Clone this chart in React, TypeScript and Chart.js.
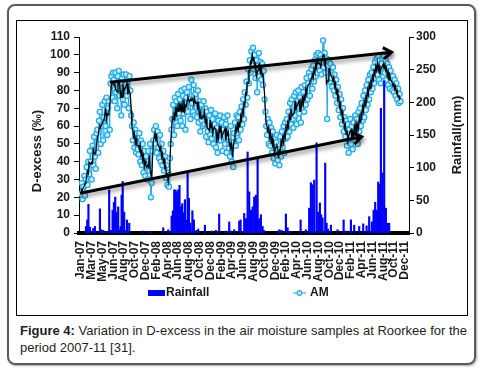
import React, { useEffect, useRef } from "react";
import { Chart, registerables } from "chart.js";
Chart.register(...registerables);

const FONT = "'Liberation Sans', Arial, sans-serif";

// x-axis category labels (evenly spaced over Jan-07 .. Dec-11)
const xLabels = ["Jan-07","Mar-07","May-07","Jun-07","Aug-07","Oct-07","Dec-07","Feb-08","Apr-08","Jun-08","Aug-08","Oct-08","Dec-08","Feb-09","Apr-09","Jun-09","Aug-09","Oct-09","Dec-09","Feb-10","Apr-10","Jun-10","Aug-10","Oct-10","Dec-10","Feb-11","Apr-11","Jun-11","Aug-11","Oct-11","Dec-11"];
const labelSpanMonths = 59;

// AM D-excess samples (permil), one every 0.15 month from Jan-07
const amStepMonths = 0.15;
const amValues = [
  22, 28, 19, 26, 32, 21, 30, 37, 27, 40,
  33, 46, 40, 30, 49, 38, 54, 43, 36, 56,
  58, 45, 63, 68, 50, 60, 72, 52, 65, 74,
  60, 76, 55, 70, 74, 58, 84, 88, 76, 90,
  86, 74, 90, 79, 70, 88, 91, 77, 84, 66,
  87, 75, 89, 72, 83, 89, 77, 86, 70, 88,
  80, 66, 60, 52, 62, 48, 58, 45, 56, 47,
  44, 56, 40, 52, 38, 50, 34, 46, 32, 43,
  38, 30, 46, 35, 50, 20, 28, 46, 52, 58,
  50, 60, 45, 57, 48, 42, 55, 40, 50, 38,
  46, 35, 43, 31, 38, 27, 34, 26, 42, 50,
  58, 64, 72, 55, 76, 62, 74, 60, 78, 67,
  75, 63, 80, 60, 77, 67, 81, 58, 76, 79,
  68, 82, 75, 64, 86, 73, 68, 83, 66, 78,
  75, 65, 80, 62, 74, 57, 72, 63, 60, 74,
  61, 70, 54, 68, 57, 51, 66, 55, 69, 53,
  64, 50, 61, 67, 48, 59, 45, 63, 52, 66,
  52, 62, 46, 58, 65, 50, 61, 45, 66, 54,
  50, 43, 60, 40, 51, 37, 56, 62, 49, 66,
  56, 65, 52, 68, 58, 71, 61, 75, 64, 79,
  72, 85, 76, 92, 84, 97, 90, 102, 94, 104,
  92, 100, 87, 97, 79, 94, 101, 88, 96, 86,
  95, 83, 91, 75, 68, 60, 55, 64, 50, 62,
  49, 59, 45, 57, 42, 53, 39, 51, 55, 41,
  47, 38, 54, 43, 57, 48, 60, 45, 62, 53,
  64, 54, 68, 57, 73, 61, 75, 64, 59, 77,
  66, 79, 61, 74, 80, 67, 76, 62, 82, 70,
  79, 68, 83, 72, 87, 75, 84, 90, 77, 88,
  92, 81, 94, 85, 97, 88, 100, 90, 101, 94,
  91, 100, 89, 98, 108, 93, 101, 90, 98, 64,
  94, 97, 85, 95, 87, 82, 93, 80, 89, 77,
  86, 73, 82, 69, 78, 65, 75, 61, 70, 57,
  65, 54, 63, 49, 61, 45, 58, 64, 50, 60,
  47, 62, 52, 66, 54, 64, 50, 68, 57, 70,
  60, 73, 63, 77, 65, 80, 69, 83, 72, 86,
  75, 89, 79, 90, 81, 93, 84, 96, 87, 98,
  89, 99, 86, 97, 84, 95, 98, 88, 99, 90,
  97, 86, 95, 83, 93, 81, 91, 85, 80, 88,
  79, 86, 77, 84, 75, 81, 73, 78, 74
];

// Rainfall events: position in months from Jan-07, and amount (mm)
const rainMonth = [
  0.91, 1.15, 1.37, 1.64, 2.24, 2.55, 3.46, 3.70, 4.06, 4.55, 5.15, 5.46, 5.77, 6.01, 6.25, 6.50, 6.79, 7.01, 7.23, 7.41, 7.61, 7.88, 8.14, 8.38, 8.80,
  11.24, 12.26, 12.87, 14.99, 15.90, 16.52, 16.75, 16.99, 17.23, 17.48, 17.72, 17.96, 18.21, 18.45, 18.68, 18.94, 19.18, 19.43, 19.67, 19.94, 20.30, 20.58, 21.07, 21.36, 22.58, 23.86, 24.58, 25.18, 26.40, 27.01, 27.32, 27.92, 28.83, 29.08,
  29.74, 30.05, 30.36, 30.65, 30.96, 31.27, 31.56, 31.87, 32.18, 32.47, 32.78, 33.09, 33.32, 35.93, 36.15, 36.55, 37.33, 37.64, 38.06, 40.01,
  40.97, 41.57, 41.88, 42.19, 42.49, 42.92, 43.21, 43.52, 43.76, 44.01, 44.49, 44.74, 44.98, 45.53, 46.74, 47.84, 48.38, 49.17, 49.77, 50.68,
  51.41, 52.03, 52.50, 52.99, 53.30, 53.59, 53.90, 54.14, 54.37, 54.63, 54.94, 55.23, 55.54, 55.85, 56.14
];
const rainMm = [
  10, 20, 44, 9, 7, 10, 37, 5, 4, 2, 66, 4, 35, 47, 55, 32, 40, 5, 10, 58, 79, 32, 4, 20, 15,
  3, 2, 2, 8, 5, 26, 34, 66, 66, 63, 66, 73, 40, 45, 31, 51, 20, 92, 53, 15, 34, 20, 4, 6, 12, 3, 4, 29, 3, 17, 3, 5, 18, 20,
  30, 22, 124, 63, 35, 40, 55, 58, 115, 22, 28, 10, 4, 3, 5, 4, 29, 8, 2, 20,
  5, 38, 77, 74, 81, 138, 32, 46, 28, 23, 107, 15, 6, 12, 5, 20, 3, 20, 12, 10,
  14, 11, 25, 17, 35, 47, 35, 78, 75, 191, 92, 233, 38, 15, 15
];

// Trend arrows drawn on the D-excess scale: [month, D-excess]
const arrowUpper = { from: [5.28, 84.6], to: [56.58, 101.4] };
const arrowLower = { from: [-0.18, 22.3], to: [51.12, 54.0] };

const yLeftTitle = "D-excess (\u2030)";
const yRightTitle = "Rainfall(mm)";

function drawArrow(ctx: CanvasRenderingContext2D, x1: number, y1: number, x2: number, y2: number) {
  ctx.save();
  ctx.shadowColor = "rgba(0,0,0,0.45)";
  ctx.shadowBlur = 4;
  ctx.shadowOffsetX = 1;
  ctx.shadowOffsetY = 3;
  ctx.strokeStyle = "#000";
  ctx.lineWidth = 3;
  ctx.lineCap = "butt";
  ctx.lineJoin = "miter";
  ctx.beginPath();
  ctx.moveTo(x1, y1);
  ctx.lineTo(x2, y2);
  ctx.stroke();
  const a = Math.atan2(y2 - y1, x2 - x1);
  const L = 10;
  ctx.beginPath();
  ctx.moveTo(x2 - L * Math.cos(a - 0.6), y2 - L * Math.sin(a - 0.6));
  ctx.lineTo(x2, y2);
  ctx.lineTo(x2 - L * Math.cos(a + 0.6), y2 - L * Math.sin(a + 0.6));
  ctx.stroke();
  ctx.restore();
}

const overlay = {
  id: "overlay",
  afterDatasetsDraw(chart: any) {
    const { ctx, scales } = chart;
    const xs = scales.x, ys = scales.y;
    for (const ar of [arrowUpper, arrowLower]) {
      drawArrow(ctx, xs.getPixelForValue(ar.from[0]), ys.getPixelForValue(ar.from[1]),
        xs.getPixelForValue(ar.to[0]), ys.getPixelForValue(ar.to[1]));
    }
  },
  afterDraw(chart: any) {
    const { ctx, chartArea } = chart;
    ctx.save();
    ctx.fillStyle = "#1a1a1a";
    ctx.font = `bold 13px ${FONT}`;
    ctx.textAlign = "center";
    ctx.textBaseline = "middle";
    ctx.save();
    ctx.translate(20, chartArea.top + 114);
    ctx.rotate(-Math.PI / 2);
    ctx.fillText(yLeftTitle, 0, 0);
    ctx.restore();
    ctx.save();
    ctx.translate(chart.width - 10, chartArea.top + 98);
    ctx.rotate(-Math.PI / 2);
    ctx.fillText(yRightTitle, 0, 0);
    ctx.restore();
    // legend
    const ly = chartArea.bottom + 60;
    ctx.font = `bold 12px ${FONT}`;
    ctx.textAlign = "left";
    ctx.fillStyle = "#0000FF";
    ctx.fillRect(131, ly - 3, 17, 6);
    ctx.fillStyle = "#1a1a1a";
    ctx.fillText(chart.data.datasets[0].label, 149, ly);
    ctx.strokeStyle = "#1EAAE7";
    ctx.lineWidth = 1;
    ctx.beginPath();
    ctx.moveTo(276, ly);
    ctx.lineTo(289, ly);
    ctx.stroke();
    ctx.beginPath();
    ctx.arc(282.5, ly, 2.3, 0, Math.PI * 2);
    ctx.fillStyle = "#c8ecfa";
    ctx.fill();
    ctx.lineWidth = 1.2;
    ctx.stroke();
    ctx.fillStyle = "#1a1a1a";
    ctx.fillText(chart.data.datasets[2].label, 293, ly);
    ctx.restore();
  },
};

export default function App() {
  const ref = useRef<HTMLCanvasElement>(null);
  useEffect(() => {
    const amData = amValues.map((v, i) => ({ x: i * amStepMonths, y: v }));
    const trendData = amValues.map((_, i) => {
      const w = amValues.slice(Math.max(0, i - 1), i + 2);
      return { x: i * amStepMonths, y: w.reduce((s, v) => s + v, 0) / w.length };
    });
    const rainData = rainMonth.map((m, i) => ({ x: m, y: rainMm[i] }));
    const tickFont = { family: FONT, size: 12, weight: "bold" as const };
    const chart = new Chart(ref.current!, {
      type: "bar",
      data: {
        datasets: [
          { type: "bar", label: "Rainfall", data: rainData as any, yAxisID: "y2", backgroundColor: "#0000FF", barThickness: 1.5, order: 0 } as any,
          { type: "line", label: "AM trend", data: trendData as any, yAxisID: "y", borderColor: "#000", borderWidth: 1.2, pointRadius: 0, order: 1 } as any,
          { type: "line", label: "AM", data: amData as any, yAxisID: "y", borderColor: "#1EAAE7", borderWidth: 1, pointRadius: 2.6, pointBorderWidth: 1.2, pointBorderColor: "#1EAAE7", pointBackgroundColor: "#c8ecfa", order: 2 } as any,
        ],
      },
      options: {
        animation: false,
        responsive: true,
        maintainAspectRatio: false,
        layout: { padding: { top: 16, left: 0, right: 0, bottom: 22 } },
        plugins: { legend: { display: false }, tooltip: { enabled: false } },
        scales: {
          x: {
            type: "linear",
            min: -0.35,
            max: 59.75,
            offset: false,
            afterBuildTicks: (s: any) => {
              s.ticks = xLabels.map((_, k) => ({ value: (k * labelSpanMonths) / (xLabels.length - 1) }));
            },
            afterFit: (s: any) => { s.height = 60; },
            grid: { display: false, drawTicks: false, tickLength: 0 },
            border: { display: true, color: "#000", width: 4 },
            ticks: {
              autoSkip: false, minRotation: 90, maxRotation: 90, padding: 8, color: "#1a1a1a", font: tickFont,
              callback: (_v: any, i: number) => xLabels[i],
            },
          },
          y: {
            position: "left", min: 0, max: 110,
            afterFit: (s: any) => { s.width = 62; },
            grid: { drawOnChartArea: false, color: "#000", tickLength: 5 },
            border: { display: true, color: "#000", width: 1 },
            ticks: { stepSize: 10, padding: 4, color: "#1a1a1a", font: tickFont },
          },
          y2: {
            position: "right", min: 0, max: 300,
            afterFit: (s: any) => { s.width = 58; },
            grid: { drawOnChartArea: false, color: "#000", tickLength: 5 },
            border: { display: true, color: "#000", width: 1 },
            ticks: { stepSize: 50, padding: 2, color: "#1a1a1a", font: tickFont },
          },
        },
      } as any,
      plugins: [overlay],
    });
    return () => chart.destroy();
  }, []);
  return (
    <div style={{ position: "fixed", left: 0, top: 0, width: 482, height: 369, background: "#fff", overflow: "hidden" }}>
      <div style={{ position: "absolute", left: 7, top: 4, width: 469, height: 361, border: "2px solid #5a5a5a", borderRadius: 8, boxSizing: "border-box", boxShadow: "1px 1px 2px rgba(0,0,0,0.35)" }} />
      <div style={{ position: "absolute", left: 16, top: 20, width: 452, height: 296, border: "1px solid #000", boxSizing: "border-box" }} />
      <div style={{ position: "absolute", left: 17, top: 21, width: 450, height: 294 }}>
        <canvas ref={ref} />
      </div>
      <div style={{ position: "absolute", left: 20, top: 322, width: 455, font: `13px ${FONT}`, lineHeight: "17px", color: "#231f20", whiteSpace: "nowrap" }}>
        <b>Figure 4:</b> Variation in D-excess in the air moisture samples at Roorkee for the<br />period 2007-11 [31].
      </div>
    </div>
  );
}
